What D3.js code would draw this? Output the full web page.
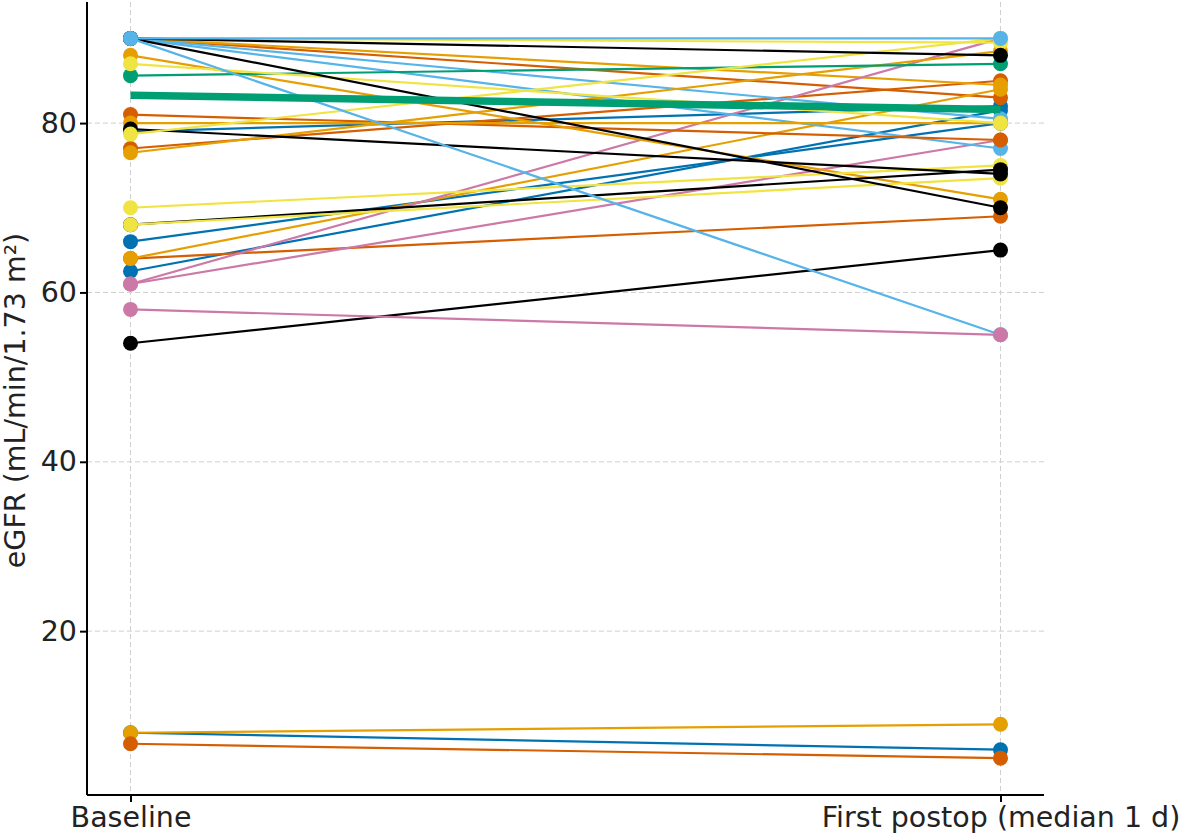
<!DOCTYPE html>
<html>
<head>
<meta charset="utf-8">
<script src="https://cdn.jsdelivr.net/npm/d3@7"></script>
<style>
  html, body { margin: 0; padding: 0; background: #fff; }
  text { font-family: "DejaVu Sans", sans-serif; }
</style>
</head>
<body>
<svg id="chart" width="1185" height="833"></svg>
<script>
// ---- data ----
const timepoints = ["Baseline", "First postop (median 1 d)"];
const baselineValues = [79, 66, 62.5, 64, 90, 77, 64, 90, 61, 61, 90, 90, 81, 80, 88, 76.5, 85.6, 87, 90, 70, 68, 68, 79.3, 78.7, 90, 90, 54, 90, 90, 58, 8, 8, 6.7];
const postopValues   = [82, 80, 81.5, 69, 83, 85, 84, 84.5, 90, 78, 80.5, 77, 78, 80, 71, 88.5, 87, 80, 89.5, 75, 74.5, 73.5, 74, 90, 88, 70, 65, 55, 90, 55, 6, 9, 5];
const patientGroup   = ["blue", "blue", "blue", "verm", "verm", "verm", "orange", "orange", "pink", "pink", "sky", "sky", "verm", "orange", "orange", "orange", "green", "yellow", "yellow", "yellow", "black", "yellow", "black", "yellow", "black", "black", "black", "sky", "sky", "pink", "blue", "orange", "verm"];
const meanValues = [83.3, 81.6];
const yTicks = [20, 40, 60, 80];

// ---- styles ----
const palette = {
  black: "#000000", orange: "#E69F00", sky: "#56B4E9", green: "#009E73",
  yellow: "#F0E442", blue: "#0072B2", verm: "#D55E00", pink: "#CC79A7"
};

const svg = d3.select("#chart");
const pL = 87, pR = 1044, pT = 2, pB = 795;
const fs = 28.5;

const x = d3.scaleLinear().domain([-0.05, 1.05]).range([pL, pR]);
const y = d3.scaleLinear().domain([0.65, 94.3]).range([pB, pT]);

// grid
const grid = svg.append("g");
grid.selectAll("line.h").data(yTicks).join("line")
  .attr("x1", pL).attr("x2", pR)
  .attr("y1", d => y(d)).attr("y2", d => y(d))
  .attr("stroke", "#d0d0d0").attr("stroke-width", 1).attr("stroke-dasharray", "5,3");
grid.selectAll("line.v").data(timepoints.map((d, i) => i)).join("line")
  .attr("x1", d => x(d)).attr("x2", d => x(d))
  .attr("y1", pT).attr("y2", pB)
  .attr("stroke", "#d0d0d0").attr("stroke-width", 1).attr("stroke-dasharray", "5,3");

const patients = baselineValues.map((b, i) => ({ b, p: postopValues[i], c: palette[patientGroup[i]] }));

// each patient: line then its two markers (drawn in order, like a plot call)
const pg = svg.append("g");
patients.forEach(d => {
  const g = pg.append("g");
  g.append("line")
    .attr("x1", x(0)).attr("x2", x(1))
    .attr("y1", y(d.b)).attr("y2", y(d.p))
    .attr("stroke", d.c).attr("stroke-width", 2.2);
  g.append("circle").attr("cx", x(0)).attr("cy", y(d.b)).attr("r", 7.5).attr("fill", d.c);
  g.append("circle").attr("cx", x(1)).attr("cy", y(d.p)).attr("r", 7.5).attr("fill", d.c);
});

// mean line
svg.append("line")
  .attr("x1", x(0)).attr("x2", x(1))
  .attr("y1", y(meanValues[0])).attr("y2", y(meanValues[1]))
  .attr("stroke", palette.green).attr("stroke-width", 7.5);

// axes
const yAxis = d3.axisLeft(y).tickValues(yTicks).tickSize(7).tickPadding(3);
const gy = svg.append("g").attr("transform", `translate(${pL},0)`).call(yAxis);
gy.select(".domain").attr("d", `M0,${pT}V${pB}`).attr("stroke-width", 2);
gy.selectAll(".tick line").attr("stroke-width", 2);
gy.selectAll("text").attr("font-size", fs).attr("font-family", "DejaVu Sans").attr("fill", "#222");

const xAxis = d3.axisBottom(x).tickValues([0, 1]).tickFormat(i => timepoints[i]).tickSize(7).tickPadding(5);
const gx = svg.append("g").attr("transform", `translate(0,${pB})`).call(xAxis);
gx.select(".domain").attr("d", `M${pL},0H${pR}`).attr("stroke-width", 2);
gx.selectAll(".tick line").attr("stroke-width", 2);
gx.selectAll("text").attr("font-size", fs).attr("font-family", "DejaVu Sans").attr("fill", "#222");

svg.append("text")
  .attr("transform", `translate(17,${(pT + pB) / 2 + 2}) rotate(-90)`)
  .attr("text-anchor", "middle").attr("dominant-baseline", "middle")
  .attr("font-size", fs).attr("fill", "#222")
  .text("eGFR (mL/min/1.73 m²)");
</script>
</body>
</html>
